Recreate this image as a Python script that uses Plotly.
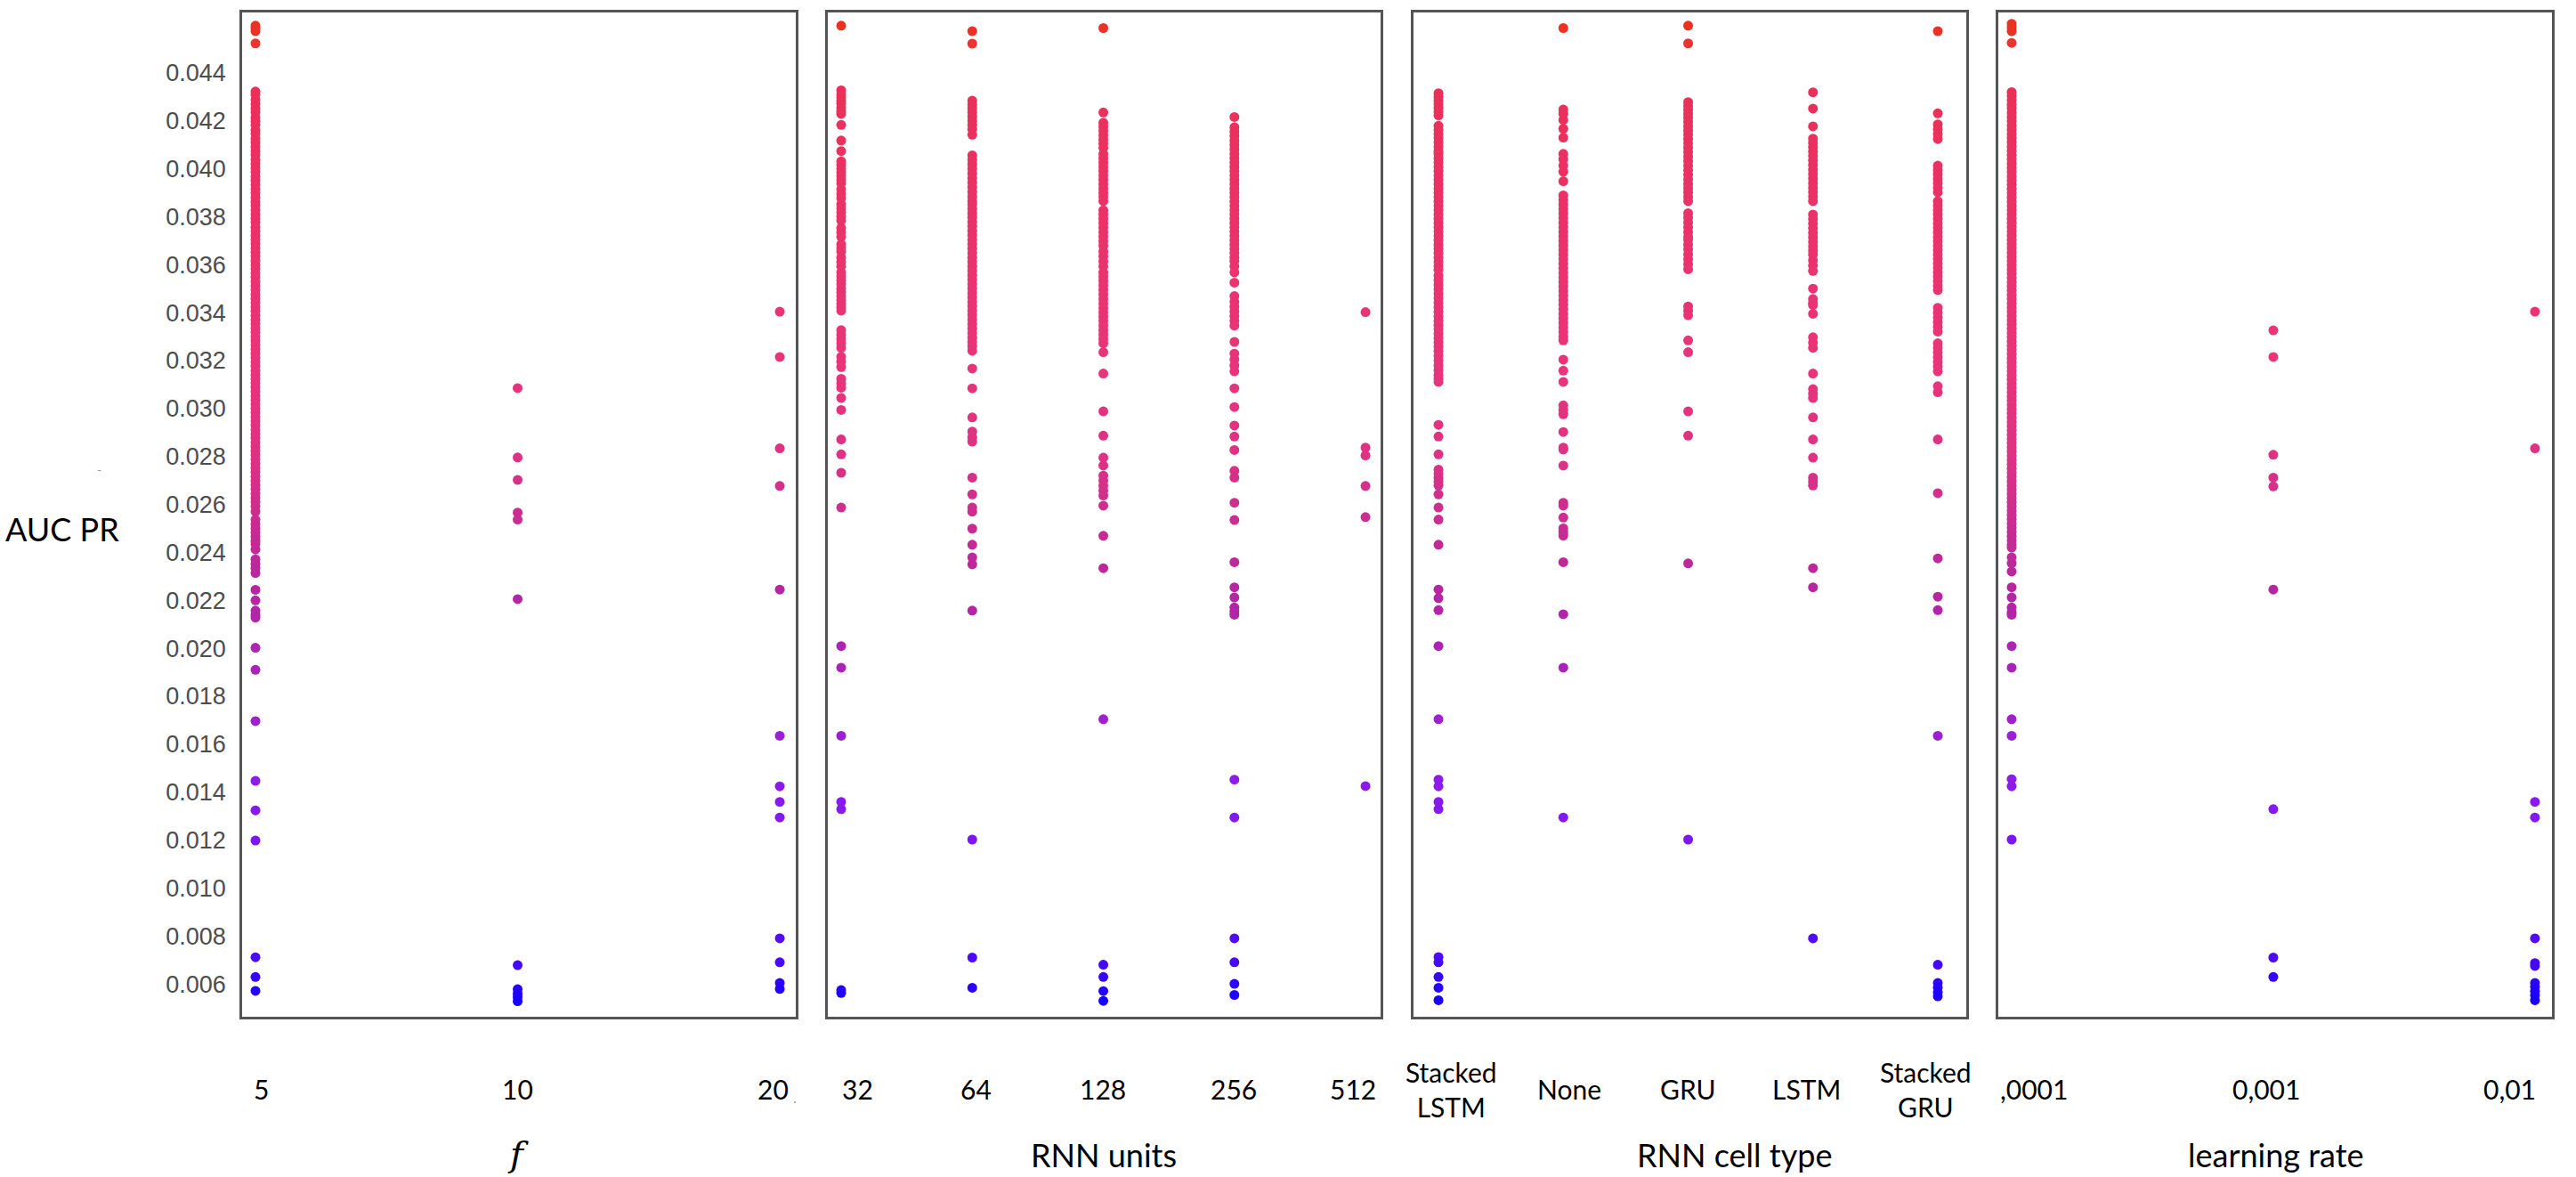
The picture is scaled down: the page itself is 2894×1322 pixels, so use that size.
import plotly.graph_objects as go
from plotly.subplots import make_subplots

W, H = 2894, 1322

# ---- data (AUC PR per hyper-parameter value) ----
f_labels = ["5", "10", "20"]
units_labels = ["32", "64", "128", "256", "512"]
cell_labels = ["Stacked<br>LSTM", "None", "GRU", "LSTM", "Stacked<br>GRU"]
lr_labels = [",0001", "0,001", "0,01"]
axis_titles = ["<i>f</i>", "RNN units", "RNN cell type", "learning rate"]
y_ticks = [0.006, 0.008, 0.010, 0.012, 0.014, 0.016, 0.018, 0.020, 0.022, 0.024,
           0.026, 0.028, 0.030, 0.032, 0.034, 0.036, 0.038, 0.040, 0.042, 0.044]

f5_auc = [
    0.04597, 0.04587, 0.04574, 0.04523,
    0.04322, 0.04309, 0.04288, 0.04270, 0.04251, 0.04236, 0.04214, 0.04198, 0.04183, 0.04161,
    0.04147, 0.04126, 0.04110, 0.04092, 0.04074, 0.04058, 0.04037, 0.04021, 0.04003, 0.03986,
    0.03967, 0.03951, 0.03933, 0.03914, 0.03899, 0.03880, 0.03862, 0.03847, 0.03828, 0.03810,
    0.03793, 0.03777, 0.03756, 0.03740, 0.03722, 0.03705, 0.03688, 0.03669, 0.03652, 0.03636,
    0.03617, 0.03599, 0.03583, 0.03564, 0.03548, 0.03529, 0.03511, 0.03495, 0.03476, 0.03459,
    0.03442, 0.03423, 0.03407, 0.03388, 0.03370, 0.03354, 0.03335, 0.03318, 0.03300, 0.03283,
    0.03265, 0.03247, 0.03230, 0.03212, 0.03194, 0.03177, 0.03158, 0.03141, 0.03124, 0.03106,
    0.03089, 0.03071, 0.03052, 0.03036, 0.03018, 0.03000, 0.02983, 0.02964, 0.02947, 0.02930,
    0.02911, 0.02894, 0.02877, 0.02858, 0.02841, 0.02823, 0.02806, 0.02788, 0.02770, 0.02752,
    0.02735, 0.02716, 0.02699, 0.02681, 0.02664, 0.02645, 0.02628, 0.02611, 0.02592, 0.02570,
    0.02537, 0.02518, 0.02500, 0.02483, 0.02466, 0.02449, 0.02435, 0.02412, 0.02371, 0.02352,
    0.02334, 0.02314, 0.02244, 0.02200, 0.02157, 0.02140, 0.02128, 0.02002, 0.01910, 0.01696,
    0.01447, 0.01324, 0.01198, 0.00711, 0.00629, 0.00571,
]
f10_auc = [0.03085, 0.02796, 0.02702, 0.02566, 0.02537, 0.02205,
           0.00678, 0.00578, 0.00560, 0.00545, 0.00528]
f20_auc = [0.03404, 0.03215, 0.02834, 0.02677, 0.02245, 0.01635, 0.01424,
           0.01359, 0.01294, 0.00790, 0.00690, 0.00604, 0.00579]

u32_auc = [
    0.04597, 0.04327, 0.04310, 0.04297, 0.04283, 0.04272, 0.04255, 0.04240, 0.04229,
    0.04183, 0.04118, 0.04074, 0.04031, 0.04016, 0.04000, 0.03985, 0.03970, 0.03954, 0.03939,
    0.03914, 0.03895, 0.03877, 0.03852, 0.03835, 0.03818, 0.03801, 0.03784, 0.03753, 0.03735,
    0.03716, 0.03685, 0.03670, 0.03655, 0.03630, 0.03611, 0.03593, 0.03568, 0.03551, 0.03535,
    0.03519, 0.03500, 0.03485, 0.03468, 0.03452, 0.03437, 0.03422, 0.03408, 0.03327, 0.03308,
    0.03290, 0.03272, 0.03253, 0.03216, 0.03195, 0.03173, 0.03124, 0.03105, 0.03087, 0.03044,
    0.02994, 0.02871, 0.02809, 0.02732, 0.02587, 0.02009, 0.01919, 0.01635, 0.01359, 0.01329,
    0.00574, 0.00562,
]
u64_auc = [
    0.04574, 0.04522, 0.04284, 0.04268, 0.04251, 0.04235, 0.04218, 0.04200, 0.04183, 0.04165,
    0.04142, 0.04056, 0.04037, 0.04019, 0.04000, 0.03980, 0.03961, 0.03942, 0.03923, 0.03904,
    0.03884, 0.03865, 0.03852, 0.03833, 0.03815, 0.03797, 0.03778, 0.03760, 0.03741, 0.03723,
    0.03704, 0.03686, 0.03667, 0.03649, 0.03630, 0.03612, 0.03593, 0.03575, 0.03556, 0.03538,
    0.03519, 0.03501, 0.03482, 0.03464, 0.03445, 0.03427, 0.03408, 0.03390, 0.03371, 0.03352,
    0.03333, 0.03315, 0.03296, 0.03278, 0.03260, 0.03241, 0.03167, 0.03084, 0.02963, 0.02904,
    0.02880, 0.02862, 0.02712, 0.02642, 0.02587, 0.02570, 0.02499, 0.02432, 0.02379, 0.02350,
    0.02157, 0.01202, 0.00710, 0.00584,
]
u128_auc = [
    0.04587, 0.04235, 0.04192, 0.04175, 0.04158, 0.04140, 0.04122, 0.04105, 0.04087, 0.04062,
    0.04044, 0.04026, 0.04008, 0.03990, 0.03972, 0.03954, 0.03936, 0.03918, 0.03900, 0.03883,
    0.03865, 0.03827, 0.03810, 0.03792, 0.03774, 0.03755, 0.03736, 0.03717, 0.03698, 0.03679,
    0.03655, 0.03635, 0.03614, 0.03593, 0.03568, 0.03550, 0.03532, 0.03514, 0.03495, 0.03476,
    0.03457, 0.03438, 0.03419, 0.03401, 0.03383, 0.03365, 0.03346, 0.03327, 0.03309, 0.03290,
    0.03272, 0.03235, 0.03146, 0.02988, 0.02887, 0.02795, 0.02762, 0.02720, 0.02700, 0.02678,
    0.02657, 0.02637, 0.02595, 0.02469, 0.02334, 0.01704, 0.00680, 0.00629, 0.00570, 0.00529,
]
u256_auc = [
    0.04216, 0.04173, 0.04155, 0.04137, 0.04118, 0.04100, 0.04081, 0.04062, 0.04044, 0.04026,
    0.04008, 0.03990, 0.03972, 0.03954, 0.03936, 0.03918, 0.03900, 0.03882, 0.03864, 0.03846,
    0.03828, 0.03810, 0.03792, 0.03774, 0.03756, 0.03738, 0.03720, 0.03702, 0.03684, 0.03666,
    0.03648, 0.03630, 0.03615, 0.03593, 0.03568, 0.03525, 0.03469, 0.03445, 0.03425, 0.03405,
    0.03385, 0.03366, 0.03346, 0.03278, 0.03229, 0.03205, 0.03180, 0.03155, 0.03084, 0.03006,
    0.02929, 0.02883, 0.02827, 0.02740, 0.02712, 0.02607, 0.02535, 0.02359, 0.02254, 0.02212,
    0.02170, 0.02155, 0.02140, 0.01452, 0.01294, 0.00790, 0.00690, 0.00600, 0.00554,
]
u512_auc = [0.03402, 0.02837, 0.02804, 0.02677, 0.02547, 0.01425]

sl_auc = [
    0.04315, 0.04300, 0.04285, 0.04270, 0.04254, 0.04238, 0.04223, 0.04179, 0.04162, 0.04145,
    0.04128, 0.04110, 0.04092, 0.04074, 0.04062, 0.04044, 0.04026, 0.04008, 0.03990, 0.03972,
    0.03954, 0.03936, 0.03918, 0.03900, 0.03882, 0.03864, 0.03846, 0.03828, 0.03810, 0.03792,
    0.03774, 0.03756, 0.03738, 0.03720, 0.03702, 0.03684, 0.03666, 0.03648, 0.03630, 0.03612,
    0.03595, 0.03578, 0.03555, 0.03536, 0.03517, 0.03498, 0.03479, 0.03460, 0.03441, 0.03422,
    0.03403, 0.03384, 0.03365, 0.03348, 0.03330, 0.03312, 0.03294, 0.03276, 0.03258, 0.03240,
    0.03220, 0.03200, 0.03180, 0.03160, 0.03140, 0.03125, 0.03111, 0.02932, 0.02883, 0.02809,
    0.02745, 0.02728, 0.02712, 0.02695, 0.02679, 0.02642, 0.02587, 0.02537, 0.02432, 0.02245,
    0.02209, 0.02159, 0.02009, 0.01704, 0.01452, 0.01424, 0.01359, 0.01329, 0.00712, 0.00690,
    0.00629, 0.00584, 0.00532,
]
none_auc = [
    0.04587, 0.04247, 0.04230, 0.04204, 0.04167, 0.04130, 0.04062, 0.04040, 0.04013, 0.03988,
    0.03948, 0.03889, 0.03870, 0.03851, 0.03832, 0.03813, 0.03794, 0.03775, 0.03756, 0.03737,
    0.03718, 0.03699, 0.03680, 0.03661, 0.03642, 0.03623, 0.03604, 0.03585, 0.03566, 0.03547,
    0.03528, 0.03509, 0.03490, 0.03471, 0.03452, 0.03433, 0.03414, 0.03395, 0.03376, 0.03357,
    0.03338, 0.03319, 0.03300, 0.03284, 0.03204, 0.03158, 0.03111, 0.03013, 0.02994, 0.02976,
    0.02902, 0.02837, 0.02829, 0.02762, 0.02607, 0.02595, 0.02545, 0.02500, 0.02485, 0.02470,
    0.02359, 0.02142, 0.01919, 0.01294,
]
gru_auc = [
    0.04597, 0.04523, 0.04278, 0.04262, 0.04246, 0.04230, 0.04213, 0.04196, 0.04178, 0.04160,
    0.04142, 0.04124, 0.04106, 0.04088, 0.04070, 0.04051, 0.04032, 0.04013, 0.03994, 0.03975,
    0.03956, 0.03937, 0.03919, 0.03901, 0.03883, 0.03865, 0.03815, 0.03796, 0.03776, 0.03756,
    0.03736, 0.03716, 0.03704, 0.03684, 0.03664, 0.03643, 0.03622, 0.03602, 0.03581, 0.03426,
    0.03408, 0.03389, 0.03284, 0.03235, 0.02988, 0.02887, 0.02354, 0.01202,
]
lstm_auc = [
    0.04319, 0.04251, 0.04177, 0.04126, 0.04108, 0.04090, 0.04072, 0.04054, 0.04035, 0.04016,
    0.03997, 0.03978, 0.03959, 0.03940, 0.03921, 0.03903, 0.03884, 0.03865, 0.03809, 0.03790,
    0.03771, 0.03752, 0.03733, 0.03714, 0.03695, 0.03676, 0.03659, 0.03642, 0.03618, 0.03596,
    0.03574, 0.03500, 0.03457, 0.03440, 0.03432, 0.03395, 0.03297, 0.03275, 0.03253, 0.03146,
    0.03081, 0.03062, 0.03044, 0.02963, 0.02871, 0.02795, 0.02712, 0.02695, 0.02679, 0.02334,
    0.02254, 0.00790,
]
sgru_auc = [
    0.04574, 0.04231, 0.04185, 0.04165, 0.04145, 0.04124, 0.04013, 0.03995, 0.03977, 0.03958,
    0.03940, 0.03921, 0.03902, 0.03865, 0.03847, 0.03828, 0.03810, 0.03791, 0.03772, 0.03754,
    0.03735, 0.03716, 0.03698, 0.03679, 0.03661, 0.03642, 0.03624, 0.03605, 0.03587, 0.03568,
    0.03550, 0.03531, 0.03512, 0.03494, 0.03420, 0.03400, 0.03380, 0.03360, 0.03340, 0.03321,
    0.03272, 0.03253, 0.03234, 0.03214, 0.03194, 0.03175, 0.03155, 0.03093, 0.03068, 0.02871,
    0.02647, 0.02375, 0.02215, 0.02159, 0.01635, 0.00680, 0.00604, 0.00585, 0.00565, 0.00548,
]

lr1_auc = [
    0.04605, 0.04590, 0.04574, 0.04525,
    0.04320, 0.04304, 0.04286, 0.04268, 0.04252, 0.04233, 0.04216, 0.04199, 0.04180, 0.04163,
    0.04145, 0.04128, 0.04111, 0.04093, 0.04075, 0.04057, 0.04040, 0.04022, 0.04004, 0.03987,
    0.03969, 0.03951, 0.03934, 0.03916, 0.03898, 0.03881, 0.03863, 0.03845, 0.03828, 0.03810,
    0.03792, 0.03775, 0.03757, 0.03739, 0.03722, 0.03704, 0.03686, 0.03669, 0.03651, 0.03633,
    0.03616, 0.03598, 0.03580, 0.03563, 0.03545, 0.03527, 0.03510, 0.03492, 0.03474, 0.03457,
    0.03439, 0.03421, 0.03404, 0.03386, 0.03368, 0.03351, 0.03333, 0.03315, 0.03298, 0.03280,
    0.03262, 0.03245, 0.03227, 0.03209, 0.03192, 0.03174, 0.03156, 0.03139, 0.03121, 0.03103,
    0.03086, 0.03068, 0.03050, 0.03033, 0.03015, 0.02997, 0.02980, 0.02962, 0.02944, 0.02927,
    0.02909, 0.02891, 0.02874, 0.02856, 0.02838, 0.02821, 0.02803, 0.02785, 0.02768, 0.02750,
    0.02732, 0.02715, 0.02697, 0.02679, 0.02662, 0.02644, 0.02626, 0.02609, 0.02591, 0.02573,
    0.02556, 0.02538, 0.02520, 0.02503, 0.02485, 0.02467, 0.02450, 0.02432, 0.02420, 0.02379,
    0.02355, 0.02320, 0.02254, 0.02212, 0.02170, 0.02150, 0.02140, 0.02009, 0.01919, 0.01704,
    0.01635, 0.01454, 0.01424, 0.01202,
]
lr2_auc = [0.03326, 0.03215, 0.02807, 0.02712, 0.02675, 0.02245, 0.01329, 0.00710, 0.00629]
lr3_auc = [0.03404, 0.02834, 0.01359, 0.01294, 0.00790, 0.00687, 0.00675,
           0.00604, 0.00588, 0.00570, 0.00553, 0.00532]

panels = [
    (f_labels, [f5_auc, f10_auc, f20_auc]),
    (units_labels, [u32_auc, u64_auc, u128_auc, u256_auc, u512_auc]),
    (cell_labels, [sl_auc, none_auc, gru_auc, lstm_auc, sgru_auc]),
    (lr_labels, [lr1_auc, lr2_auc, lr3_auc]),
]

# ---- layout geometry (pixels of the 2894x1322 page) ----
x_domains = [(272, 894), (930, 1551), (1588, 2209), (2245, 2867)]
x_ranges = [(-0.051, 2.061), (-0.102, 4.115), (-0.2, 4.228), (-0.051, 2.065)]
label_shifts = [[6, 0, -8], [18, 4, -1, -1, -14], [14, 7, 0, -7, -14], [0, -8, -28]]
title_x = [582, 1240, 1949, 2557]
plot_top, plot_bottom = 14, 1142

colorscale = [
    [0.0, "rgb(20,0,255)"],
    [0.044, "rgb(75,10,245)"],
    [0.166, "rgb(125,22,245)"],
    [0.227, "rgb(142,28,232)"],
    [0.289, "rgb(160,32,205)"],
    [0.362, "rgb(172,36,178)"],
    [0.423, "rgb(182,38,160)"],
    [0.484, "rgb(200,44,146)"],
    [0.557, "rgb(222,50,132)"],
    [0.655, "rgb(233,52,122)"],
    [0.802, "rgb(234,50,104)"],
    [0.929, "rgb(234,48,88)"],
    [0.978, "rgb(234,52,50)"],
    [1.0, "rgb(234,50,32)"],
]

fig = make_subplots(rows=1, cols=4, shared_yaxes=True)

for p, (labels, columns) in enumerate(panels):
    xs, ys = [], []
    for i, vals in enumerate(columns):
        xs += [i] * len(vals)
        ys += vals
    fig.add_trace(
        go.Scatter(
            x=xs, y=ys, mode="markers",
            marker=dict(size=11, color=ys, colorscale=colorscale,
                        cmin=0.0052, cmax=0.0461, showscale=False,
                        line=dict(width=0)),
            showlegend=False,
            hovertemplate="AUC PR: %{y:.4f}<extra></extra>",
        ),
        row=1, col=p + 1,
    )

axis_style = dict(showline=True, mirror=True, linecolor="#555555", linewidth=2.5,
                  showgrid=False, zeroline=False)

for p in range(4):
    x0, x1 = x_domains[p]
    fig.update_xaxes(domain=[x0 / W, x1 / W], range=list(x_ranges[p]),
                     showticklabels=False, ticks="", row=1, col=p + 1, **axis_style)
    fig.update_yaxes(domain=[1 - plot_bottom / H, 1 - plot_top / H],
                     range=[0.00463, 0.04652], row=1, col=p + 1, **axis_style)

fig.update_yaxes(
    tickvals=y_ticks, ticktext=["%.3f" % t for t in y_ticks],
    ticks="outside", ticklen=10, tickcolor="rgba(0,0,0,0)",
    tickfont=dict(family="Liberation Sans, Arial, sans-serif", size=27, color="#4d4d4d"),
    row=1, col=1,
)
for c in (2, 3, 4):
    fig.update_yaxes(showticklabels=False, ticks="", row=1, col=c)

annotations = []
label_font = dict(family="Lato, sans-serif", size=30, color="#000000")
for p, (labels, columns) in enumerate(panels):
    xref = "x" if p == 0 else "x%d" % (p + 1)
    for i, lab in enumerate(labels):
        ann = dict(x=i, y=1 - 1223 / H, xref=xref, yref="paper", text=lab,
                   showarrow=False, font=label_font, xshift=label_shifts[p][i],
                   xanchor="center", yanchor="middle", align="center")
        if p == 3 and i == 0:
            ann.update(xanchor="left", xshift=-15)
        annotations.append(ann)

# axis titles sit right on the bottom edge of the page
for p, t in enumerate(axis_titles):
    if p == 0:
        font = dict(family="DejaVu Serif, serif", size=40, color="#000000")
    else:
        font = dict(family="Lato, sans-serif", size=36, color="#000000")
    annotations.append(dict(x=title_x[p] / W, y=0, xref="paper", yref="paper",
                            text=t, showarrow=False, font=font, borderpad=0,
                            xanchor="center", yanchor="bottom", yshift=2))

annotations.append(dict(x=70 / W, y=1 - 594 / H, xref="paper", yref="paper",
                        text="AUC PR", showarrow=False,
                        font=dict(family="Lato, sans-serif", size=36, color="#000000"),
                        xanchor="center", yanchor="middle"))
# tiny stray marks visible in the original
annotations.append(dict(x=111 / W, y=1 - 527 / H, xref="paper", yref="paper",
                        text="-", showarrow=False,
                        font=dict(family="Lato, sans-serif", size=14, color="#9a9a9a"),
                        xanchor="center", yanchor="middle"))
annotations.append(dict(x=893 / W, y=1 - 1232 / H, xref="paper", yref="paper",
                        text=".", showarrow=False,
                        font=dict(family="Lato, sans-serif", size=16, color="#9a9a9a"),
                        xanchor="center", yanchor="middle"))

fig.update_layout(
    width=W, height=H,
    margin=dict(l=0, r=0, t=0, b=0),
    paper_bgcolor="white", plot_bgcolor="white",
    annotations=annotations,
    showlegend=False,
)

# the page body has a default margin that pushes the figure down; drop it
fig.write_html(
    "out.html",
    config={"displayModeBar": False},
    post_script="document.body.style.margin='0px';document.body.style.overflow='hidden';",
)
